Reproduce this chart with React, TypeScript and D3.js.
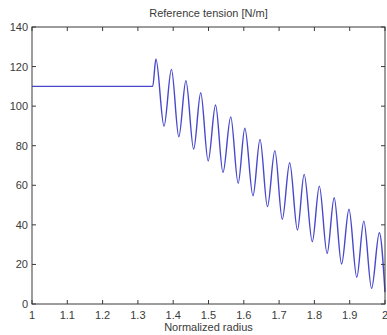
import React from "react";
import * as d3 from "d3";

const flatR = [1.0, 1.342];
const flatT = [110, 110];
const peakR = [1.351, 1.395, 1.436, 1.478, 1.52, 1.563, 1.603, 1.646, 1.688, 1.73, 1.771, 1.814, 1.856, 1.898, 1.94, 1.984];
const peakT = [123.8, 118.6, 112.8, 106.8, 100.6, 94.6, 88.8, 83.2, 77.5, 71.4, 65.5, 59.6, 53.7, 47.9, 41.9, 36];
const troughR = [1.374, 1.416, 1.458, 1.499, 1.541, 1.584, 1.626, 1.667, 1.709, 1.752, 1.794, 1.836, 1.877, 1.92, 1.962];
const troughT = [89.9, 84.5, 78.3, 72.3, 66.5, 61, 54.7, 49.2, 42.8, 37.4, 31.5, 25.5, 20.2, 13.5, 7.9];
const endR = [2.0];
const endT = [6];
const xTicks = [1, 1.1, 1.2, 1.3, 1.4, 1.5, 1.6, 1.7, 1.8, 1.9, 2];
const yTicks = [0, 20, 40, 60, 80, 100, 120, 140];

const W = 387, H = 335;
const L = 32, R = 385, T = 27, B = 304;

export default function App() {
  const x = d3.scaleLinear().domain([1, 2]).range([L, R]);
  const y = d3.scaleLinear().domain([0, 140]).range([B, T]);
  const pts: [number, number][] = [];
  flatR.forEach((r, i) => pts.push([r, flatT[i]]));
  peakR.forEach((r, i) => {
    pts.push([r, peakT[i]]);
    if (i < troughR.length) pts.push([troughR[i], troughT[i]]);
  });
  endR.forEach((r, i) => pts.push([r, endT[i]]));
  const line = d3.line<[number, number]>().x(d => x(d[0])).y(d => y(d[1])).curve(d3.curveMonotoneX);
  const font = "Liberation Sans, Arial, sans-serif";
  const col = "#3a3a3a";
  return (
    <div style={{ position: "absolute", left: 0, top: 0 }}>
      <svg width={W} height={H} style={{ display: "block", background: "#fff" }}>
        <rect x={L} y={T} width={R - L} height={B - T} fill="#fff" stroke="none" />
        <path d={line(pts) || ""} fill="none" stroke="#4848cc" strokeWidth={1.4} />
        <rect x={L} y={T} width={R - L} height={B - T} fill="none" stroke={col} strokeWidth={1} />
        {xTicks.map(t => (
          <g key={"x" + t}>
            <line x1={x(t)} x2={x(t)} y1={B} y2={B - 4} stroke={col} />
            <line x1={x(t)} x2={x(t)} y1={T} y2={T + 4} stroke={col} />
            <text x={x(t)} y={319} fontSize={11} fontFamily={font} fill={col} textAnchor="middle">{String(t)}</text>
          </g>
        ))}
        {yTicks.map(t => (
          <g key={"y" + t}>
            <line x1={L} x2={L + 4} y1={y(t)} y2={y(t)} stroke={col} />
            <line x1={R} x2={R - 4} y1={y(t)} y2={y(t)} stroke={col} />
            <text x={28} y={y(t) + 4} fontSize={11} fontFamily={font} fill={col} textAnchor="end">{String(t)}</text>
          </g>
        ))}
        <text x={(L + R) / 2} y={17} fontSize={11} fontFamily={font} fill={col} textAnchor="middle">Reference tension [N/m]</text>
        <text x={(L + R) / 2} y={331} fontSize={11} fontFamily={font} fill={col} textAnchor="middle">Normalized radius</text>
      </svg>
    </div>
  );
}
